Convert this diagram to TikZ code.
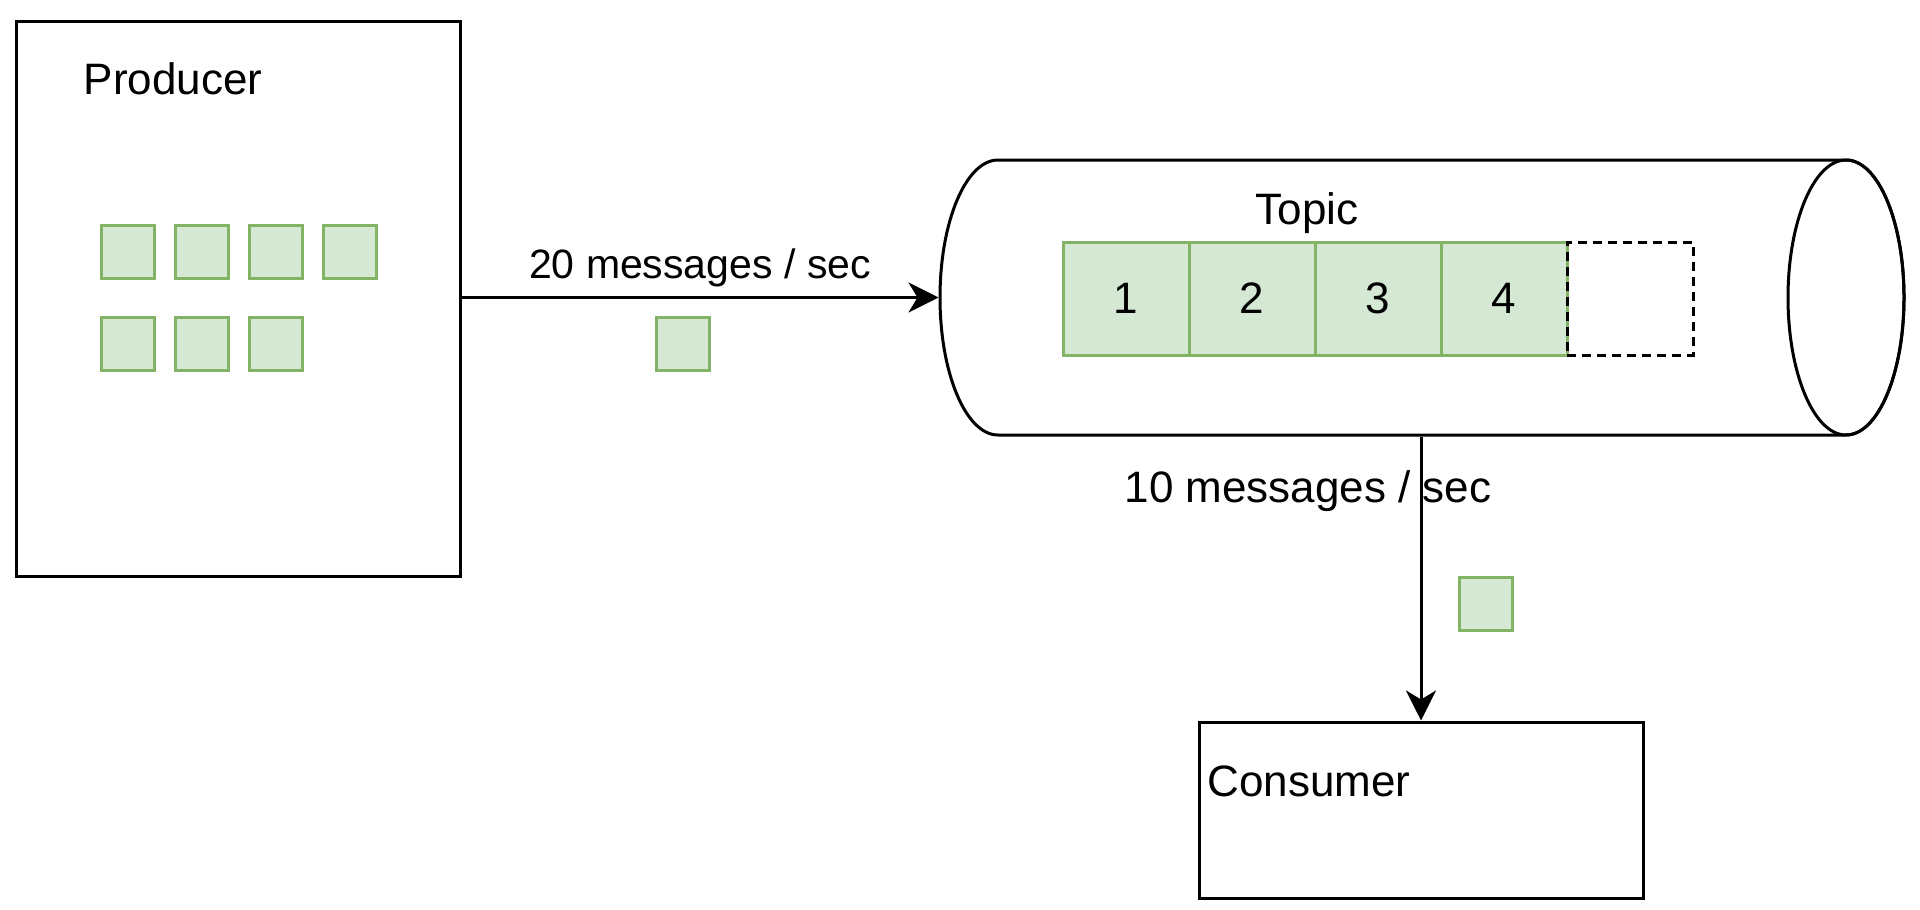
\documentclass[tikz,border=0pt]{standalone}
\usepackage{fontspec}
\setmainfont{Liberation Sans}
\usetikzlibrary{arrows.meta, positioning}
\definecolor{msgline}{HTML}{82B366}
\definecolor{msgfill}{HTML}{D5E8D4}

\begin{document}
\begin{tikzpicture}[x=1pt, y=-1pt, line width=3pt,
    every node/.style={font=\fontsize{44}{52}\selectfont},
    box/.style={draw, rectangle, inner sep=0pt},
    msg/.style={draw=msgline, fill=msgfill, rectangle, inner sep=0pt, outer sep=0pt, minimum size=53pt},
    cell/.style={draw=msgline, fill=msgfill, rectangle, inner sep=0pt, outer sep=0pt, minimum width=126pt, minimum height=113pt},
    lbl/.style={inner sep=0pt, anchor=base},
    flow/.style={-{Stealth[length=30pt, width=30pt, inset=9pt]}}]
    \useasboundingbox (0,0) rectangle (1920,910);

    % producer with queued messages
    \node[box, minimum width=444pt, minimum height=555pt] (producer) at (238,298.5) {};
    \node[lbl] (prodlabel) at (173,94) {Producer};
    \node[msg] (m1) at (127.5,252) {};
    \node[msg, right=21pt of m1] (m2) {};
    \node[msg, right=21pt of m2] (m3) {};
    \node[msg, right=21pt of m3] (m4) {};
    \node[msg, below=39pt of m1] (m5) {};
    \node[msg, right=21pt of m5] (m6) {};
    \node[msg, right=21pt of m6] (m7) {};

    % topic cylinder
    \node[inner sep=0pt, minimum width=964pt, minimum height=275pt] (topic) at (1422,297.5) {};
    \draw[fill=white] (998,160) arc[start angle=90, end angle=270, x radius=58pt, y radius=137.5pt]
        -- (1846,435) arc[start angle=270, end angle=450, x radius=58pt, y radius=137.5pt] -- cycle;
    \draw (1846,297.5) ellipse[x radius=58pt, y radius=137.5pt];
    \node[lbl] (topiclabel) at (1307,224) {Topic};
    \node[cell] (c1) at (1126,298.5) {1};
    \node[cell, right=0pt of c1] (c2) {2};
    \node[cell, right=0pt of c2] (c3) {3};
    \node[cell, right=0pt of c3] (c4) {4};
    \node[cell, right=0pt of c4, draw=black, fill=none, dash pattern=on 9pt off 6pt] (slot) {};

    % consumer
    \node[box, minimum width=444pt, minimum height=176pt] (consumer) at (1421,810) {};
    \node[lbl, anchor=base west] (conslabel) at (1206,796) {Consumer};

    % flows
    \draw[flow] (producer.east |- topic.west) -- (topic.west)
        node[midway, lbl, yshift=19pt, font=\fontsize{41}{49}\selectfont] (inrate) {20 messages / sec};
    \node[msg] (mid1) at (683,344) {};
    \draw[flow] (topic.south -| consumer.north) -- (consumer.north);
    \node[lbl] (outrate) at (1308,502) {10 messages / sec};
    \node[msg] (mid2) at (1486,604) {};
\end{tikzpicture}
\end{document}
